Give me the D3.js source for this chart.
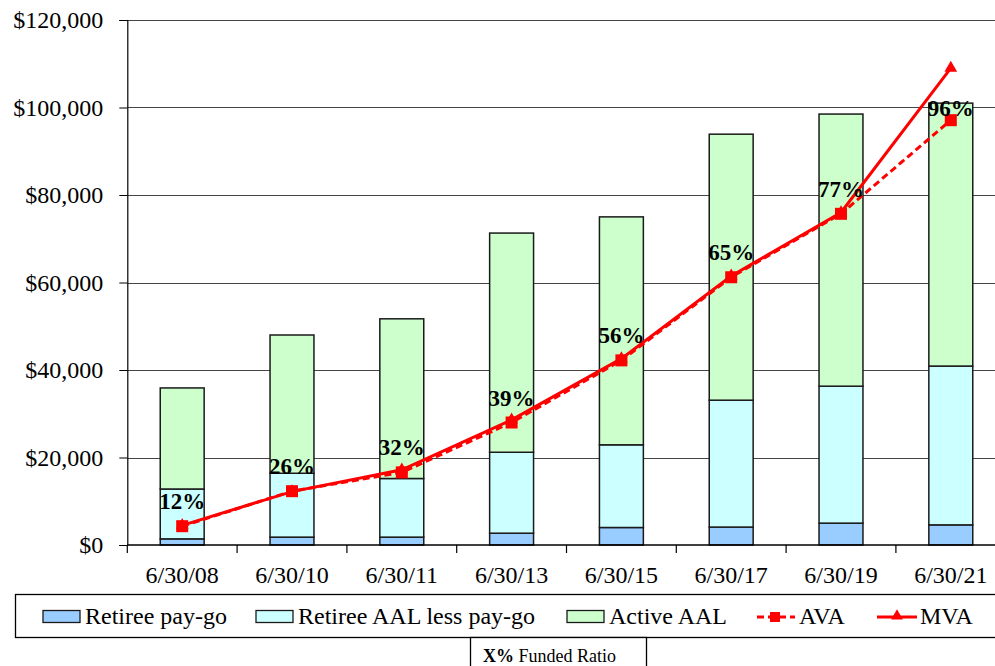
<!DOCTYPE html>
<html>
<head>
<meta charset="utf-8">
<script src="https://cdn.jsdelivr.net/npm/d3@7"></script>
<style>
  html, body { margin: 0; padding: 0; background: #fff; }
  svg { display: block; font-family: "Liberation Serif", "Times New Roman", serif; }
</style>
</head>
<body>
<svg id="chart" width="995" height="666"></svg>
<script>
// Valuation dates
const dates = ["6/30/08", "6/30/10", "6/30/11", "6/30/13", "6/30/15", "6/30/17", "6/30/19", "6/30/21"];
// Liability components ($ thousands)
const retireePayGo = [1400, 1800, 1800, 2700, 4000, 4100, 5000, 4600];
const retireeLessPayGo = [11400, 14600, 13400, 18500, 18900, 29000, 31300, 36300];
const activeAAL = [23100, 31600, 36500, 50100, 52100, 60800, 62200, 60100];
// Assets ($ thousands)
const ava = [4300, 12300, 16600, 28000, 42200, 61200, 75700, 97100];
const mva = [4500, 12200, 17200, 28600, 42600, 61500, 76000, 109000];
// Funded ratio labels (AVA / total AAL)
const fundedRatio = ["12%", "26%", "32%", "39%", "56%", "65%", "77%", "96%"];
const yTicks = [0, 20000, 40000, 60000, 80000, 100000, 120000];
const seriesNames = ["Retiree pay-go", "Retiree AAL less pay-go", "Active AAL", "AVA", "MVA"];

const colors = { payGo: "#99CCFF", retiree: "#CCFFFF", active: "#CCFFCC", line: "#FF0000" };

const svg = d3.select("#chart");
const plotLeft = 127.3, plotRight = 1005.7, plotTop = 20, plotBottom = 545;

const x = d3.scaleBand().domain(dates).range([plotLeft, plotRight]).paddingInner(0).paddingOuter(0);
const y = d3.scaleLinear().domain([0, 120000]).range([plotBottom, plotTop]);
const barW = x.bandwidth() * 0.40;
const cx = d => x(d) + x.bandwidth() / 2;

// Horizontal gridlines
svg.append("g").selectAll("line").data(yTicks.filter(t => t > 0)).join("line")
  .attr("x1", plotLeft).attr("x2", 995)
  .attr("y1", d => Math.round(y(d)) + 0.5).attr("y2", d => Math.round(y(d)) + 0.5)
  .attr("stroke", "#444").attr("stroke-width", 1);

// Y axis
const yAxis = svg.append("g").attr("transform", `translate(${plotLeft},0)`)
  .call(d3.axisLeft(y).tickValues(yTicks).tickSize(8).tickPadding(16)
    .tickFormat(d => "$" + d3.format(",")(d)));
yAxis.select(".domain").attr("stroke", "#000").attr("stroke-width", 1.2);
yAxis.selectAll(".tick line").attr("stroke", "#000");
yAxis.selectAll("text").attr("font-size", 24).attr("fill", "#000")
  .attr("font-family", "Liberation Serif, Times New Roman, serif");

// Stacked bars
const rows = dates.map((d, i) => ({ date: d, payGo: retireePayGo[i], retiree: retireeLessPayGo[i], active: activeAAL[i] }));
const stack = d3.stack().keys(["payGo", "retiree", "active"])(rows);
svg.append("g").selectAll("g").data(stack).join("g")
  .attr("fill", s => colors[s.key])
  .selectAll("rect").data(s => s).join("rect")
  .attr("x", d => cx(d.data.date) - barW / 2)
  .attr("width", barW)
  .attr("y", d => y(d[1]))
  .attr("height", d => y(d[0]) - y(d[1]))
  .attr("stroke", "#1a1a1a").attr("stroke-width", 1.5);

// X axis
const xAxis = svg.append("g").attr("transform", `translate(0,${plotBottom})`)
  .call(d3.axisBottom(x).tickSize(0).tickPadding(21));
xAxis.select(".domain").remove();
xAxis.selectAll("text").attr("font-size", 24).attr("fill", "#000")
  .attr("font-family", "Liberation Serif, Times New Roman, serif");
svg.append("line").attr("x1", plotLeft).attr("x2", 995).attr("y1", plotBottom).attr("y2", plotBottom)
  .attr("stroke", "#000").attr("stroke-width", 1.5);
svg.append("g").selectAll("line").data(d3.range(dates.length + 1)).join("line")
  .attr("x1", i => plotLeft + i * x.bandwidth()).attr("x2", i => plotLeft + i * x.bandwidth())
  .attr("y1", plotBottom).attr("y2", plotBottom + 8)
  .attr("stroke", "#000").attr("stroke-width", 1.2);

// Asset lines
const line = d3.line().x((d, i) => cx(dates[i])).y(d => y(d));
svg.append("path").datum(mva).attr("d", line)
  .attr("fill", "none").attr("stroke", colors.line).attr("stroke-width", 3);
svg.append("g").selectAll("path").data(mva).join("path")
  .attr("d", d3.symbol(d3.symbolTriangle, 70))
  .attr("transform", (d, i) => `translate(${cx(dates[i])},${y(d)})`)
  .attr("fill", colors.line);
svg.append("path").datum(ava).attr("d", line)
  .attr("fill", "none").attr("stroke", colors.line).attr("stroke-width", 3)
  .attr("stroke-dasharray", "7,4");
svg.append("g").selectAll("rect").data(ava).join("rect")
  .attr("x", (d, i) => cx(dates[i]) - 6).attr("y", d => y(d) - 6)
  .attr("width", 12).attr("height", 12).attr("fill", colors.line);

// Funded ratio labels, above the AVA marker and kept inside the bar
svg.append("g").selectAll("text").data(fundedRatio).join("text")
  .attr("x", (d, i) => cx(dates[i]))
  .attr("y", (d, i) => Math.max(y(ava[i]) - 17, y(retireePayGo[i] + retireeLessPayGo[i] + activeAAL[i]) + 13))
  .attr("text-anchor", "middle").attr("font-size", 23).attr("font-weight", "bold")
  .attr("fill", "#000").text(d => d);

// Legend
const lg = svg.append("g");
lg.append("rect").attr("x", 15.5).attr("y", 594.5).attr("width", 1000).attr("height", 43)
  .attr("fill", "#fff").attr("stroke", "#000").attr("stroke-width", 1.3);
const legendY = 617;
const swatches = [
  { name: seriesNames[0], x: 43, fill: colors.payGo },
  { name: seriesNames[1], x: 256, fill: colors.retiree },
  { name: seriesNames[2], x: 567, fill: colors.active }
];
swatches.forEach(s => {
  lg.append("rect").attr("x", s.x).attr("y", 610.5).attr("width", 37).attr("height", 12)
    .attr("fill", s.fill).attr("stroke", "#1a1a1a").attr("stroke-width", 1.3);
  lg.append("text").attr("x", s.x + 42).attr("y", 623.5).attr("font-size", 24)
    .attr("fill", "#000").text(s.name);
});
// AVA legend entry
lg.append("line").attr("x1", 757).attr("x2", 795).attr("y1", legendY).attr("y2", legendY)
  .attr("stroke", colors.line).attr("stroke-width", 3).attr("stroke-dasharray", "7,4");
lg.append("rect").attr("x", 770).attr("y", legendY - 5).attr("width", 10).attr("height", 10).attr("fill", colors.line);
lg.append("text").attr("x", 799).attr("y", 623.5).attr("font-size", 24).attr("fill", "#000").text(seriesNames[3]);
// MVA legend entry
lg.append("line").attr("x1", 877).attr("x2", 917).attr("y1", legendY).attr("y2", legendY)
  .attr("stroke", colors.line).attr("stroke-width", 3);
lg.append("path").attr("d", d3.symbol(d3.symbolTriangle, 60))
  .attr("transform", `translate(897,${legendY - 1})`).attr("fill", colors.line);
lg.append("text").attr("x", 920).attr("y", 623.5).attr("font-size", 24).attr("fill", "#000").text(seriesNames[4]);

// Funded ratio key
const key = svg.append("g");
key.append("rect").attr("x", 470.5).attr("y", 637.5).attr("width", 176).attr("height", 40)
  .attr("fill", "#fff").attr("stroke", "#000").attr("stroke-width", 1.3);
const keyText = key.append("text").attr("x", 483).attr("y", 662).attr("font-size", 18).attr("fill", "#000");
keyText.append("tspan").attr("font-weight", "bold").text("X%");
keyText.append("tspan").text(" Funded Ratio");
</script>
</body>
</html>
